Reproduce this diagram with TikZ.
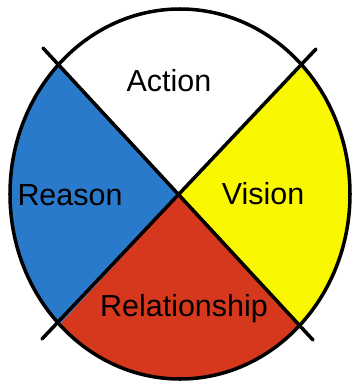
\documentclass[tikz,border=0pt]{standalone}
\usepackage{fontspec}
\setmainfont{Liberation Sans}
\usepackage{xcolor}
\usetikzlibrary{positioning,calc}
\definecolor{wheelblue}{RGB}{42,122,204}
\definecolor{wheelyellow}{RGB}{250,248,0}
\definecolor{wheelred}{RGB}{214,56,30}

\begin{document}
\begin{tikzpicture}[x=0.03cm,y=-0.03cm]
  \tikzset{
    rim/.style={line width=3pt,black},
    cross/.style={line width=3pt,black,line cap=round},
    lbl/.style={font=\fontsize{26}{30}\selectfont,inner sep=0pt}}
  \useasboundingbox (0,0) rectangle (355,384);
  \coordinate (c) at (180,194);
  % quarters
  \begin{scope}
    \clip (c) ellipse [x radius=170, y radius=185];
    \foreach \col/\ax/\ay/\bx/\by in {white/-302/-327/302/-327, wheelyellow/302/-327/302/327,
       wheelred/302/327/-302/327, wheelblue/-302/327/-302/-327}
      \fill[\col] (c) -- ($(c)+(\ax,\ay)$) -- ($(c)+(\bx,\by)$) -- cycle;
  \end{scope}
  \draw[rim] (c) ellipse [x radius=170, y radius=185];
  \coordinate (tl) at (43,48);  \coordinate (br) at (313,340);
  \coordinate (tr) at (316,49); \coordinate (bl) at (42,339);
  \draw[cross] (tl) -- (br);
  \draw[cross] (tr) -- (bl);
  \node[lbl] (action) at (169,81) {Action};
  \node[lbl] (vision) at (263,194) {Vision};
  \node[lbl] (reason) at (70,195) {Reason};
  \node[lbl] (relation) at (184,309) {Relationship};
\end{tikzpicture}
\end{document}
